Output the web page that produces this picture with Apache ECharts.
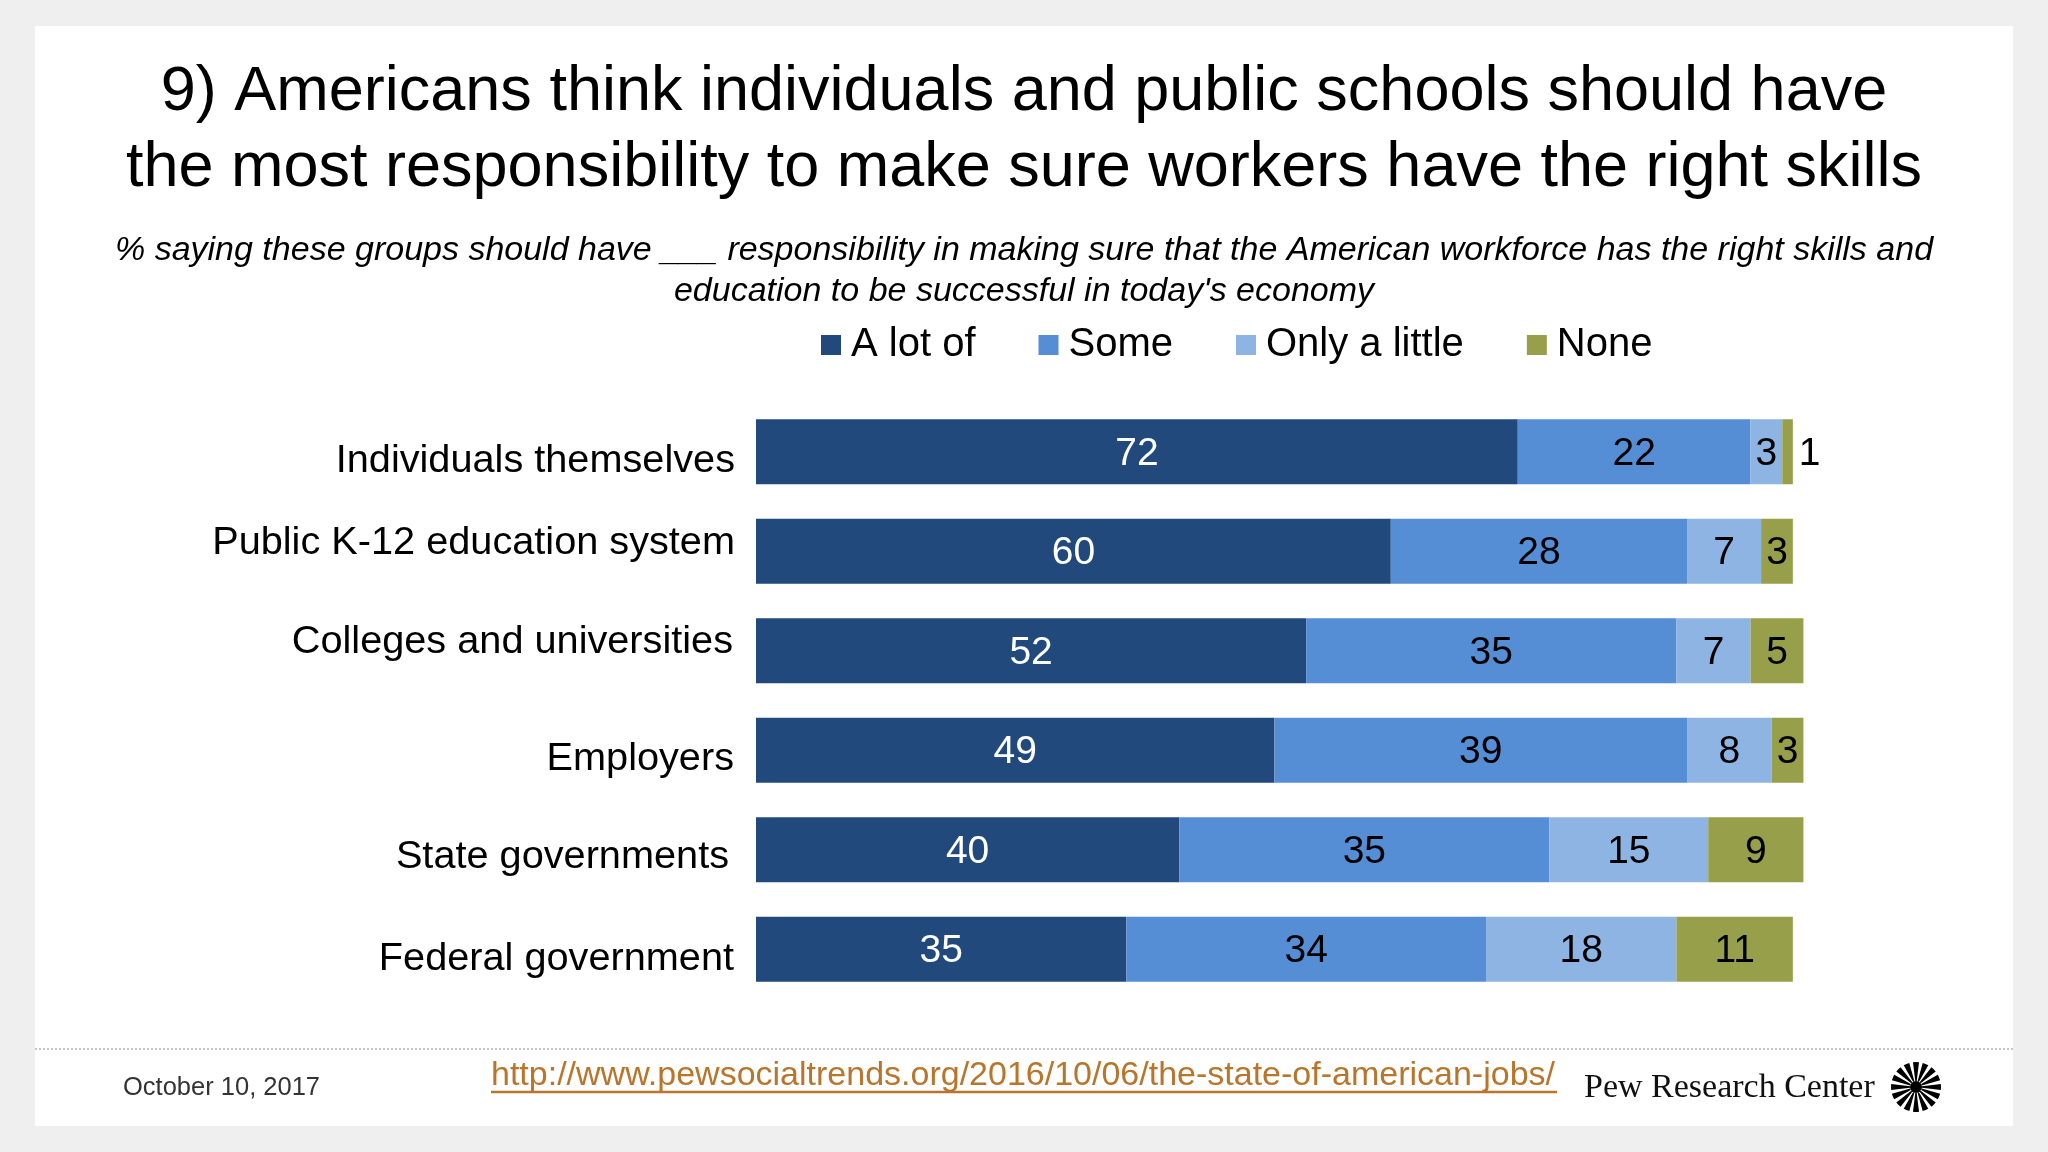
<!DOCTYPE html>
<html>
<head>
<meta charset="utf-8">
<script src="https://cdn.jsdelivr.net/npm/echarts@6/dist/echarts.min.js"></script>
<style>
html,body{margin:0;padding:0;background:#efefef;}
#chart{width:2048px;height:1152px;}
</style>
</head>
<body>
<div id="chart"></div>
<script>
const categories = ['Individuals themselves','Public K-12 education system','Colleges and universities','Employers','State governments','Federal government'];
const seriesNames = ['A lot of','Some','Only a little','None'];
const aLotOf = [72,60,52,49,40,35];
const some = [22,28,35,39,35,34];
const onlyALittle = [3,7,7,8,15,18];
const none = [1,3,5,3,9,11];

const titleText = '9) Americans think individuals and public schools should have\nthe most responsibility to make sure workers have the right skills';
const subtitleText = '% saying these groups should have ___ responsibility in making sure that the American workforce has the right skills and\neducation to be successful in today\'s economy';
const dateText = 'October 10, 2017';
const urlText = 'http://www.pewsocialtrends.org/2016/10/06/the-state-of-american-jobs/';
const brandText = 'Pew Research Center';

const colors = ['#21497b','#558ed5','#8eb4e3','#979f4a'];
const labelColors = ['#ffffff','#000000','#000000','#000000'];
const FONT = "'Liberation Sans', Arial, sans-serif";

// per-label nudges seen in the original slide (vertical shift, extra right gap), in px
const labelNudge = [[9,0],[-8,0],[-9,2],[9,1],[7,6],[10,1]];
const labelRich = {};
labelNudge.forEach((n, i) => {
  const d = n[0];
  labelRich['s' + i] = {
    fontFamily: FONT, fontSize: 39.7, color: '#000',
    padding: [d > 0 ? 2 * d : 0, n[1], d < 0 ? -2 * d : 0, 0]
  };
});

const allValues = [aLotOf, some, onlyALittle, none];

const series = allValues.map((vals, i) => ({
  name: seriesNames[i],
  type: 'bar',
  stack: 'total',
  barWidth: 65,
  itemStyle: { color: colors[i] },
  label: {
    show: true,
    position: 'inside',
    color: labelColors[i],
    fontSize: 39,
    fontFamily: FONT,
    offset: [0, 2]
  },
  data: vals.map(v => v < 2 ? { value: v, label: { position: 'right', distance: 6, color: '#000' } } : v)
}));

// logo rays
const logo = [];
const cx = 1916, cy = 1087, nRays = 16;
for (let k = 0; k < nRays; k++) {
  const a = (k / nRays) * Math.PI * 2;
  const half = Math.PI / nRays * 0.62;
  logo.push({
    type: 'sector', z: 10,
    shape: { cx: cx, cy: cy, r0: 6, r: 25, startAngle: a - half, endAngle: a + half },
    style: { fill: '#000' }
  });
}
logo.push({ type: 'circle', z: 11, shape: { cx: cx, cy: cy, r: 6 }, style: { fill: '#000' } });

const chart = echarts.init(document.getElementById('chart'));
chart.setOption({
  backgroundColor: '#efefef',
  animation: false,
  color: colors,
  title: [
    {
      text: titleText,
      left: 'center', top: 50,
      textStyle: { fontFamily: FONT, fontSize: 63, fontWeight: 'normal', color: '#000', lineHeight: 76, align: 'center' }
    },
    {
      text: subtitleText,
      left: 'center', top: 225,
      textStyle: { fontFamily: FONT, fontSize: 34, fontStyle: 'italic', fontWeight: 'normal', color: '#000', lineHeight: 41, align: 'center' }
    }
  ],
  legend: {
    left: 816, top: 320,
    icon: 'rect', itemWidth: 20, itemHeight: 20, itemGap: 63,
    textStyle: { fontFamily: FONT, fontSize: 40, color: '#000', padding: [0, 0, 0, 5] },
    data: seriesNames
  },
  grid: { left: 756, right: 234, top: 402, bottom: 153, containLabel: false },
  xAxis: { type: 'value', min: 0, max: 100, show: false },
  yAxis: {
    type: 'category', inverse: true, data: categories,
    axisLine: { show: false }, axisTick: { show: false }, splitLine: { show: false },
    axisLabel: {
      fontFamily: FONT, fontSize: 39.7, color: '#000', margin: 21,
      formatter: (value, index) => '{s' + index + '|' + value + '}',
      rich: labelRich
    }
  },
  graphic: [
    { type: 'rect', z: -10, shape: { x: 35, y: 26, width: 1978, height: 1100 }, style: { fill: '#ffffff' } },
    { type: 'line', z: 5, shape: { x1: 35, y1: 1049, x2: 2013, y2: 1049 }, style: { stroke: '#c4c4c4', lineWidth: 2, lineDash: [2, 2] } },
    { type: 'text', z: 5, x: 123, y: 1088, style: { text: dateText, font: "25.5px 'Liberation Sans', Arial, sans-serif", fill: '#333', verticalAlign: 'middle', textAlign: 'left' } },
    { type: 'text', z: 5, x: 491, y: 1076, style: { text: urlText, font: "34px 'Liberation Sans', Arial, sans-serif", fill: '#b8752b', verticalAlign: 'middle', textAlign: 'left' } },
    { type: 'line', z: 5, shape: { x1: 491, y1: 1092, x2: 1557, y2: 1092 }, style: { stroke: '#b8752b', lineWidth: 2.5 } },
    { type: 'text', z: 5, x: 1584, y: 1088, style: { text: brandText, font: "34px 'Liberation Serif', 'Times New Roman', serif", fill: '#111', verticalAlign: 'middle', textAlign: 'left' } }
  ].concat(logo),
  series: series
});
</script>
</body>
</html>
